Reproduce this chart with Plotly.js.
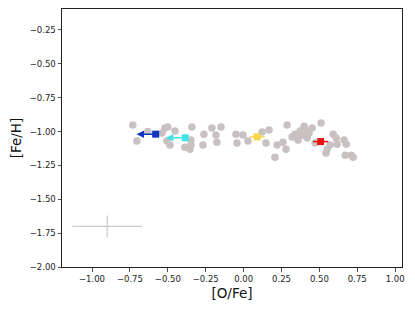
<!DOCTYPE html>
<html>
<head>
<meta charset="utf-8">
<script src="https://cdn.plot.ly/plotly-3.0.1.min.js"></script>
<style>html,body{margin:0;padding:0;background:#fff;}#chart{width:415px;height:311px;}</style>
</head>
<body>
<div id="chart"></div>
<script>
// Sample stars: [O/Fe] and [Fe/H]
const sampleOFe = [-0.731,-0.704,-0.632,-0.519,-0.500,-0.539,-0.453,-0.506,-0.486,-0.341,
  -0.348,-0.348,-0.387,-0.354,-0.262,-0.268,-0.209,-0.149,-0.182,-0.176,
  -0.050,-0.004,-0.044,0.029,0.122,0.168,0.148,0.221,0.260,0.280,
  0.207,0.287,0.320,0.340,0.399,0.452,0.511,0.386,0.359,0.419,
  0.432,0.472,0.544,0.551,0.591,0.611,0.617,0.571,0.663,0.677,
  0.670,0.723,0.710,0.373,0.406];
const sampleFeH = [-0.952,-1.070,-1.000,-0.974,-0.967,-1.011,-0.996,-1.070,-1.100,-0.967,
  -1.063,-1.100,-1.115,-1.130,-1.019,-1.100,-0.974,-0.967,-1.026,-1.078,
  -1.019,-1.026,-1.085,-1.070,-1.004,-0.989,-1.085,-1.100,-1.078,-1.130,
  -1.189,-0.952,-1.041,-1.019,-0.960,-0.974,-0.937,-1.026,-1.063,-1.048,
  -1.011,-1.085,-1.159,-1.130,-1.019,-1.048,-1.093,-1.100,-1.063,-1.093,
  -1.174,-1.189,-1.174,-0.996,-0.989];

// Highlighted stars
const hiOFe = [-0.580, -0.385, 0.089, 0.508];
const hiFeH = [-1.019, -1.046, -1.039, -1.074];
const hiColor = ['#1236c4', '#3fe3e6', '#f4d84a', '#ee1111'];
const hiErr = [0, 0, 0.05, 0.05];
const hiUpperLimitTip = [-0.706, -0.513, null, null];

// Typical error bar
const errOFe = [-0.9];
const errFeH = [-1.70];
const errX = [0.23];
const errY = [0.08];

const traces = [];
traces.push({
  x: sampleOFe, y: sampleFeH, type: 'scatter', mode: 'markers',
  marker: {color: '#c9c1c1', size: 7.5, line: {width: 0}},
  hoverinfo: 'skip'
});
traces.push({
  x: errOFe, y: errFeH, type: 'scatter', mode: 'markers',
  marker: {color: 'rgba(0,0,0,0)', size: 1},
  error_x: {type: 'data', array: errX, visible: true, color: '#cccccc', thickness: 1.3, width: 0},
  error_y: {type: 'data', array: errY, visible: true, color: '#cccccc', thickness: 1.3, width: 0},
  hoverinfo: 'skip'
});
for (let i = 0; i < hiOFe.length; i++) {
  const t = {
    x: [hiOFe[i]], y: [hiFeH[i]], type: 'scatter', mode: 'markers',
    marker: {color: hiColor[i], size: 7, symbol: 'square', line: {width: 0}},
    hoverinfo: 'skip'
  };
  if (hiErr[i] > 0) {
    t.error_x = {type: 'data', array: [hiErr[i]], visible: true, color: hiColor[i], thickness: 1.5, width: 0};
  }
  traces.push(t);
}
const annotations = [];
for (let i = 0; i < hiOFe.length; i++) {
  if (hiUpperLimitTip[i] === null) continue;
  annotations.push({
    x: hiUpperLimitTip[i], y: hiFeH[i], xref: 'x', yref: 'y',
    ax: hiOFe[i], ay: hiFeH[i], axref: 'x', ayref: 'y',
    showarrow: true, arrowhead: 2, arrowsize: 1, arrowwidth: 1.5,
    arrowcolor: hiColor[i], text: ''
  });
}

const tickFont = {family: 'DejaVu Sans', size: 8.5, color: '#222'};
const layout = {
  width: 415, height: 311,
  margin: {l: 62, r: 13, t: 9, b: 44},
  paper_bgcolor: '#fff', plot_bgcolor: '#fff',
  showlegend: false, hovermode: false,
  annotations: annotations,
  xaxis: {
    range: [-1.198, 1.045], tickmode: 'array',
    tickvals: [-1, -0.75, -0.5, -0.25, 0, 0.25, 0.5, 0.75, 1],
    ticktext: ['\u22121.00','\u22120.75','\u22120.50','\u22120.25','0.00','0.25','0.50','0.75','1.00'],
    ticks: 'outside', ticklen: 3.5, tickwidth: 0.8, tickcolor: '#222',
    showline: true, linecolor: '#222', linewidth: 1, mirror: true,
    showgrid: false, zeroline: false, tickfont: tickFont,
    title: {text: '[O/Fe]', font: {family: 'DejaVu Sans', size: 13.5, color: '#111'}, standoff: 5}
  },
  yaxis: {
    range: [-2.0, -0.095], tickmode: 'array',
    tickvals: [-2, -1.75, -1.5, -1.25, -1, -0.75, -0.5, -0.25],
    ticktext: ['\u22122.00','\u22121.75','\u22121.50','\u22121.25','\u22121.00','\u22120.75','\u22120.50','\u22120.25'],
    ticks: 'outside', ticklen: 3.5, tickwidth: 0.8, tickcolor: '#222',
    showline: true, linecolor: '#222', linewidth: 1, mirror: true,
    showgrid: false, zeroline: false, tickfont: tickFont,
    title: {text: '[Fe/H]', font: {family: 'DejaVu Sans', size: 13.5, color: '#111'}, standoff: 5}
  }
};
Plotly.newPlot('chart', traces, layout, {displayModeBar: false, staticPlot: true});
</script>
</body>
</html>
